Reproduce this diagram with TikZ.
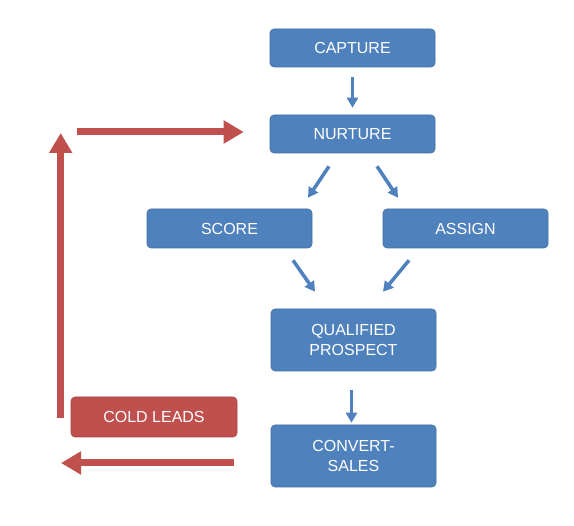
\documentclass[tikz,border=0pt]{standalone}
\usepackage{fontspec}
\setmainfont{Liberation Sans}
\usetikzlibrary{arrows.meta}
\definecolor{boxblue}{HTML}{4F81BD}
\definecolor{boxred}{HTML}{C0504D}
\tikzset{
  bluebox/.style={draw=boxblue!85!black, line width=0.6pt, fill=boxblue, rounded corners=4pt, text=white,
    minimum width=165pt, align=center, font=\fontsize{16}{19.5}\selectfont, inner sep=0pt},
  redbox/.style={bluebox, draw=boxred!85!black, fill=boxred},
  bluearrow/.style={draw=boxblue, line width=3.5pt, -{Triangle[length=10pt,width=11pt]}},
  redarrow/.style={draw=boxred, line width=7pt, -{Triangle[length=20pt,width=22pt]}}
}
\begin{document}
\begin{tikzpicture}[x=1pt,y=1pt]
\useasboundingbox[fill=white] (0,0) rectangle (574,-526);
\node[bluebox, minimum height=38pt] (capture) at (352.5,-48) {CAPTURE};
\node[bluebox, minimum height=38pt] (nurture) at (352.5,-134) {NURTURE};
\node[bluebox, minimum height=39pt] (score) at (229.5,-228.5) {SCORE};
\node[bluebox, minimum height=39pt] (assign) at (465.5,-228.5) {ASSIGN};
\node[bluebox, minimum height=62pt] (qp) at (353.5,-340) {QUALIFIED\\PROSPECT};
\node[bluebox, minimum height=62pt] (convert) at (353.5,-456) {CONVERT-\\SALES};
\node[redbox, minimum width=166pt, minimum height=40pt] (cold) at (154,-417) {COLD LEADS};

\draw[bluearrow] ([yshift=-10pt]capture.south) -- ([yshift=7pt]nurture.north);
\draw[bluearrow] ([xshift=-23.5pt,yshift=-13pt]nurture.south) -- ([xshift=78.5pt,yshift=11pt]score.north);
\draw[bluearrow] ([xshift=24.5pt,yshift=-13pt]nurture.south) -- ([xshift=-67.5pt,yshift=11pt]assign.north);
\draw[bluearrow] ([xshift=63.5pt,yshift=-12pt]score.south) -- ([xshift=-38.5pt,yshift=17pt]qp.north);
\draw[bluearrow] ([xshift=-56.5pt,yshift=-12pt]assign.south) -- ([xshift=29.5pt,yshift=17pt]qp.north);
\draw[bluearrow] ([xshift=-2pt,yshift=-19pt]qp.south) -- ([xshift=-2pt,yshift=2pt]convert.north);

\coordinate (cs) at ([xshift=-10pt,yshift=-1pt]cold.west);
\coordinate (tl) at (cs |- 0,-133);
\coordinate (ts) at ([xshift=16pt,yshift=1pt]tl);
\coordinate (te) at ([xshift=-26pt]nurture.west);
\coordinate (bs) at ([xshift=-37pt,yshift=-7pt]convert.west);
\coordinate (bl) at (61,-463);
\draw[redarrow] (bs) -- (bl |- bs);
\draw[redarrow] (cs) -- (tl);
\draw[redarrow] (ts) -- (te |- ts);
\end{tikzpicture}
\end{document}
